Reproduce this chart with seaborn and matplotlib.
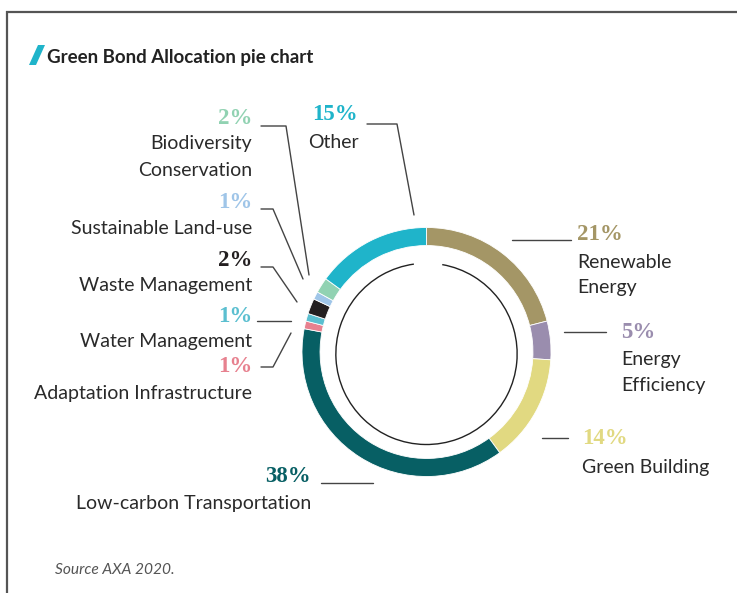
import matplotlib
matplotlib.use("Agg")
import matplotlib.pyplot as plt
from matplotlib.patches import Arc, Polygon
import seaborn as sns

sns.set_style("white")
plt.rcParams['font.family'] = ['Lato', 'DejaVu Sans']

# ---- data ----
categories = ["Renewable\nEnergy", "Energy\nEfficiency", "Green Building",
              "Low-carbon Transportation", "Adaptation Infrastructure",
              "Water Management", "Waste Management", "Sustainable Land-use",
              "Biodiversity\nConservation", "Other"]
shares = [21, 5, 14, 38, 1, 1, 2, 1, 2, 15]
colors = ["#A49666", "#9A8DAE", "#E1D981", "#075F64", "#E7818F",
          "#5BBFD0", "#231F20", "#9FC5E8", "#91D2B2", "#1FB4CA"]
title = "Green Bond Allocation pie chart"
source = "Source AXA 2020."

W, H = 737, 593
fig = plt.figure(figsize=(W / 100, H / 100), dpi=100)

# donut axes (pixel-placed)
cx, cy, R = 426.5, 352, 127
ax = fig.add_axes([(cx - R) / W, (H - cy - R) / H, 2 * R / W, 2 * R / H])
ax.pie(shares, colors=colors, startangle=90, counterclock=False, radius=1,
       wedgeprops=dict(width=0.145, edgecolor="white", linewidth=0.6))
ax.add_patch(Arc((0, -0.015), 2 * 0.728, 2 * 0.728, theta1=98, theta2=440,
                 color="#222222", lw=1.0))
ax.set_xlim(-1.02, 1.02)
ax.set_ylim(-1.02, 1.02)
ax.set_aspect("equal")
ax.axis("off")

# overlay axes in pixel coordinates
ov = fig.add_axes([0, 0, 1, 1], zorder=-1)
ov.set_xlim(0, W)
ov.set_ylim(H, 0)
ov.axis("off")

# frame lines
ov.plot([6, W], [11.5, 11.5], color="#555555", lw=1.6, solid_capstyle="butt")
ov.plot([7.5, 7.5], [11, H], color="#555555", lw=1.6, solid_capstyle="butt")

# title
ov.add_patch(Polygon([[29, 65], [36, 65], [45, 45], [38, 45]], closed=True,
                     color="#1FB4CA", lw=0))
ov.text(47, 57, title, fontsize=13.5, fontweight="bold", color="#222222",
        ha="left", va="center")
ov.text(55, 570, source, fontsize=11.2, style="italic", color="#555555",
        ha="left", va="center")

# label layout: pct (x, y), ha, name first-line y, leader polyline
layout = [
    dict(px=577, py=235, ha="left", ny=262, line=[(512, 240), (571, 240)]),
    dict(px=621, py=333, ha="left", ny=360, line=[(564, 332), (606, 332)]),
    dict(px=582, py=438, ha="left", ny=467, line=[(542, 438), (568, 438)]),
    dict(px=311, py=477, ha="right", ny=504, line=[(321, 483), (373, 483)]),
    dict(px=252, py=367, ha="right", ny=393, line=[(291, 333), (273, 367), (261, 367)]),
    dict(px=252, py=317, ha="right", ny=342, line=[(257, 321), (291, 321)]),
    dict(px=252, py=260, ha="right", ny=285, line=[(261, 267), (273, 267), (297, 302)]),
    dict(px=252, py=202, ha="right", ny=228, line=[(261, 209), (273, 209), (303, 279)]),
    dict(px=252, py=118, ha="right", ny=144, line=[(261, 126), (286, 126), (309, 275)]),
    dict(px=335, py=115, ha="center", ny=142, line=[(367, 124), (397, 124), (414, 215)]),
]

for cat, val, col, lay in zip(categories, shares, colors, layout):
    ov.text(lay["px"], lay["py"], f"{val}%", fontsize=16.5, fontweight="bold",
            family=["Liberation Serif", "DejaVu Serif"], color=col,
            ha=lay["ha"], va="center")
    for i, ln in enumerate(cat.split("\n")):
        ov.text(lay["px"] if lay["ha"] != "center" else lay["px"] - 2,
                lay["ny"] + 26 * i, ln, fontsize=14, color="#2a2a2a",
                ha=lay["ha"], va="center")
    xs, ys = zip(*lay["line"])
    ov.plot(xs, ys, color="#444444", lw=1.0)

fig.savefig("out.png", dpi=100, facecolor="white")
